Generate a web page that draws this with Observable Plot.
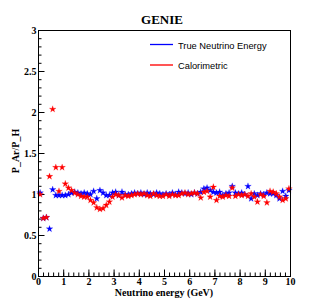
<!DOCTYPE html>
<html>
<head>
<meta charset="utf-8">
<script src="https://cdn.jsdelivr.net/npm/d3@7"></script>
<script src="https://cdn.jsdelivr.net/npm/@observablehq/plot@0.6"></script>
<style>
  html, body { margin: 0; padding: 0; background: white; }
</style>
</head>
<body>
<div id="chart"></div>
<script>
const energy = [
  0.063, 0.188, 0.313, 0.438, 0.563, 0.688, 0.813, 0.938,
  1.063, 1.188, 1.313, 1.438, 1.563, 1.688, 1.813, 1.938,
  2.063, 2.188, 2.313, 2.438, 2.563, 2.688, 2.813, 2.938,
  3.063, 3.188, 3.313, 3.438, 3.563, 3.688, 3.813, 3.938,
  4.063, 4.188, 4.313, 4.438, 4.563, 4.688, 4.813, 4.938,
  5.063, 5.188, 5.313, 5.438, 5.563, 5.688, 5.813, 5.938,
  6.063, 6.188, 6.313, 6.438, 6.563, 6.688, 6.813, 6.938,
  7.063, 7.188, 7.313, 7.438, 7.563, 7.688, 7.813, 7.938,
  8.063, 8.188, 8.313, 8.438, 8.563, 8.688, 8.813, 8.938,
  9.063, 9.188, 9.313, 9.438, 9.563, 9.688, 9.813, 9.938
];
const trueRatio = [
  1.02, 0.71, 0.72, 0.58, 1.06, 0.99, 0.99, 0.99,
  0.99, 1.00, 1.02, 1.03, 1.02, 1.01, 1.02, 1.01,
  1.00, 1.04, 0.95, 1.05, 1.02, 0.99, 0.99, 1.02,
  1.03, 0.99, 1.03, 1.00, 1.00, 1.01, 1.02, 1.01,
  1.02, 1.00, 1.02, 1.01, 1.00, 1.02, 1.01, 1.00,
  1.01, 1.00, 1.02, 1.00, 1.03, 1.02, 1.01, 1.02,
  1.00, 1.02, 1.01, 1.03, 1.07, 1.08, 1.05, 1.03,
  1.02, 1.03, 0.99, 1.01, 1.02, 1.10, 1.02, 1.01,
  1.02, 1.00, 1.10, 0.95, 1.01, 0.99, 1.01, 1.00,
  1.02, 1.01, 1.01, 0.99, 0.95, 1.04, 0.98, 1.05
];
const caloRatio = [
  1.00, 0.71, 0.72, 1.22, 2.04, 1.33, 1.04, 1.33,
  1.13, 1.08, 1.05, 1.02, 1.00, 0.98, 0.97, 0.97,
  0.93, 0.90, 0.84, 0.82, 0.83, 0.87, 0.91, 0.97,
  1.00, 0.99, 0.96, 0.99, 0.98, 0.99, 1.00, 1.01,
  1.00, 1.01, 0.99, 0.98, 1.01, 0.99, 0.98, 0.98,
  1.00, 0.98, 1.00, 0.99, 0.99, 1.01, 1.02, 1.00,
  1.01, 1.02, 1.01, 0.96, 1.03, 1.04, 0.97, 1.09,
  0.93, 0.98, 0.97, 0.99, 0.98, 1.08, 0.98, 1.00,
  0.99, 1.00, 0.98, 1.01, 0.97, 0.91, 1.00, 0.98,
  0.90, 1.04, 1.03, 1.01, 0.97, 0.93, 0.95, 1.07
];
const seriesNames = ["True Neutrino Energy", "Calorimetric"];
const seriesColors = ["#0000ff", "#ff0000"];
const xMajor = [0, 1, 2, 3, 4, 5, 6, 7, 8, 9, 10];
const xMinor = d3.range(0, 10.001, 0.2).map(v => +v.toFixed(1));
const yMajor = [0, 0.5, 1, 1.5, 2, 2.5, 3];
const yMinor = d3.range(0, 3.001, 0.1).map(v => +v.toFixed(1));
const titleText = "GENIE";
const xLabel = "Neutrino energy (GeV)";
const yLabel = "P_Ar/P_H";

const W = 315, H = 307;
const mL = 38, mR = 25, mT = 30, mB = 31;
const pw = W - mL - mR, ph = H - mT - mB;

const trueRows = energy.map((e, i) => ({e, v: trueRatio[i]}));
const caloRows = energy.map((e, i) => ({e, v: caloRatio[i]}));

const serif = "'Liberation Serif', 'Times New Roman', serif";
const sans = "'Liberation Sans', Arial, Helvetica, sans-serif";

const chart = Plot.plot({
  width: W, height: H,
  marginLeft: mL, marginRight: mR, marginTop: mT, marginBottom: mB,
  style: {fontFamily: serif, fontWeight: "bold", fontSize: "10px", background: "white", color: "black"},
  x: {domain: [0, 10], axis: null},
  y: {domain: [0, 3], axis: null},
  marks: [
    Plot.tickY(yMinor, {y: d => d, insetRight: pw - 3.5, stroke: "black"}),
    Plot.tickY(yMajor, {y: d => d, insetRight: pw - 6.5, stroke: "black"}),
    Plot.tickX(xMinor, {x: d => d, insetTop: ph - 3.5, stroke: "black"}),
    Plot.tickX(xMajor, {x: d => d, insetTop: ph - 6.5, stroke: "black"}),
    Plot.axisY({ticks: yMajor, tickSize: 0, tickPadding: 2, tickFormat: d => String(d), label: null,
      fontFamily: serif, fontWeight: "bold", fontSize: 10}),
    Plot.axisX({ticks: xMajor, tickSize: 0, tickPadding: 1, tickFormat: d => String(d), label: null,
      fontFamily: serif, fontWeight: "bold", fontSize: 10}),
    Plot.dot(trueRows, {x: "e", y: "v", symbol: "star", r: 2.1, fill: seriesColors[0], stroke: seriesColors[0], strokeWidth: 0.4, strokeOpacity: 0.5}),
    Plot.dot(caloRows, {x: "e", y: "v", symbol: "star", r: 2.1, fill: seriesColors[1], stroke: seriesColors[1], strokeWidth: 0.4, strokeOpacity: 0.5}),
    Plot.frame({stroke: "black", strokeWidth: 1})
  ]
});

const svg = d3.select(chart);
svg.append("text")
  .attr("x", 162).attr("y", 24)
  .attr("text-anchor", "middle")
  .attr("font-family", serif).attr("font-weight", "bold").attr("font-size", 13)
  .attr("fill", "black")
  .text(titleText);
svg.append("text")
  .attr("x", mL + pw / 2).attr("y", 296)
  .attr("text-anchor", "middle")
  .attr("font-family", serif).attr("font-weight", "bold").attr("font-size", 10)
  .attr("fill", "black")
  .text(xLabel);
svg.append("text")
  .attr("transform", `translate(19, ${mT + ph / 2 - 2}) rotate(-90)`)
  .attr("text-anchor", "middle")
  .attr("font-family", serif).attr("font-weight", "bold").attr("font-size", 10)
  .attr("fill", "black")
  .text(yLabel);

const legendY = [44.5, 65];
const legendW = [1.3, 2];
const legendC = ["#0000ff", "#ff5555"];
seriesNames.forEach((name, i) => {
  svg.append("line")
    .attr("x1", 150).attr("x2", 173)
    .attr("y1", legendY[i]).attr("y2", legendY[i])
    .attr("stroke", legendC[i]).attr("stroke-width", legendW[i]);
  svg.append("text")
    .attr("x", 178).attr("y", legendY[i] + 4.3)
    .attr("text-anchor", "start")
    .attr("font-family", sans).attr("font-weight", "normal").attr("font-size", 9.3)
    .attr("fill", "black")
    .text(name);
});

document.getElementById("chart").appendChild(chart);
</script>
</body>
</html>
